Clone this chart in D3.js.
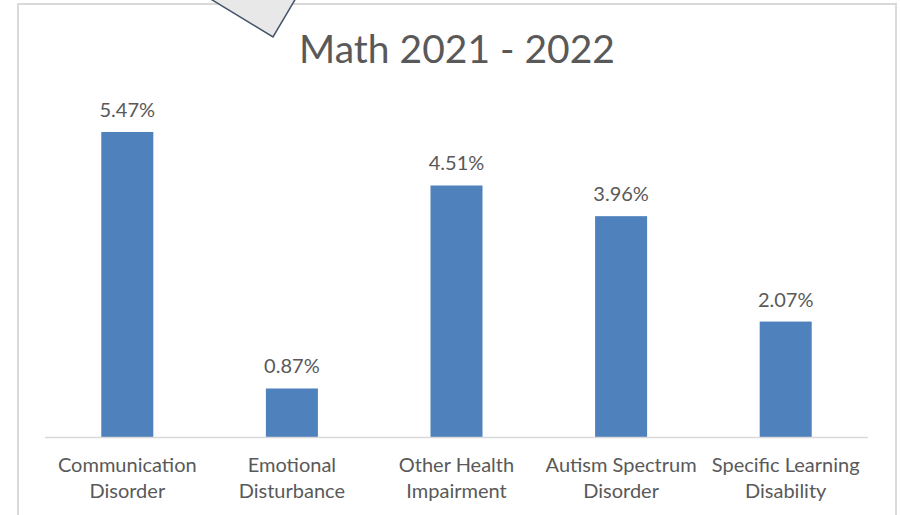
<!DOCTYPE html>
<html>
<head>
<meta charset="utf-8">
<script src="https://cdn.jsdelivr.net/npm/d3@7"></script>
<style>
  html, body { margin: 0; padding: 0; background: #fff; }
  svg { display: block; }
</style>
</head>
<body>
<div id="chart"></div>
<script>
const categories = [
  ['Communication', 'Disorder'],
  ['Emotional', 'Disturbance'],
  ['Other Health', 'Impairment'],
  ['Autism Spectrum', 'Disorder'],
  ['Specific Learning', 'Disability']
];
const values = [5.47, 0.87, 4.51, 3.96, 2.07];
const titleText = 'Math 2021 - 2022';

const W = 901, H = 515;
const font = "Lato, 'Open Sans', sans-serif";
const textColor = '#595959';

const svg = d3.select('#chart').append('svg')
  .attr('width', W).attr('height', H);

// chart frame
svg.append('rect')
  .attr('x', 18).attr('y', 4).attr('width', 878).attr('height', 530)
  .attr('fill', '#fff').attr('stroke', '#d9d9d9').attr('stroke-width', 2);

const x = d3.scaleBand()
  .domain(d3.range(categories.length))
  .range([45, 868])
  .paddingInner(0.684).paddingOuter(0.342);

const y = d3.scaleLinear().domain([0, 6]).range([437, 102.4]);

svg.append('g').selectAll('rect')
  .data(values).join('rect')
  .attr('x', (d, i) => x(i)).attr('width', x.bandwidth())
  .attr('y', d => y(d)).attr('height', d => y(0) - y(d))
  .attr('fill', '#4f81bd');

// baseline
svg.append('line')
  .attr('x1', 45).attr('x2', 868).attr('y1', y(0) + 0.5).attr('y2', y(0) + 0.5)
  .attr('stroke', '#d9d9d9').attr('stroke-width', 1.5);

// data labels
svg.append('g').selectAll('text')
  .data(values).join('text')
  .attr('x', (d, i) => x(i) + x.bandwidth() / 2)
  .attr('y', d => y(d) - 15)
  .attr('text-anchor', 'middle')
  .attr('font-family', font).attr('font-size', 20)
  .attr('fill', textColor)
  .text(d => d.toFixed(2) + '%');

// category labels (two lines)
const cat = svg.append('g').selectAll('text')
  .data(categories).join('text')
  .attr('text-anchor', 'middle')
  .attr('font-family', font).attr('font-size', 20)
  .attr('fill', textColor);
cat.selectAll('tspan')
  .data((d, i) => d.map(s => ({ s, i })))
  .join('tspan')
  .attr('x', d => x(d.i) + x.bandwidth() / 2)
  .attr('y', (d, j) => 472 + j * 25.5)
  .text(d => d.s);

// title
svg.append('text')
  .attr('x', 457).attr('y', 63)
  .attr('text-anchor', 'middle')
  .attr('font-family', font).attr('font-size', 39)
  .attr('fill', textColor)
  .text(titleText);

// callout shape overlapping the top of the frame
svg.append('path')
  .attr('d', 'M209,-2L273,37L296,-2Z')
  .attr('fill', '#e8e8e8').attr('stroke', '#44546a').attr('stroke-width', 1.5);
</script>
</body>
</html>
